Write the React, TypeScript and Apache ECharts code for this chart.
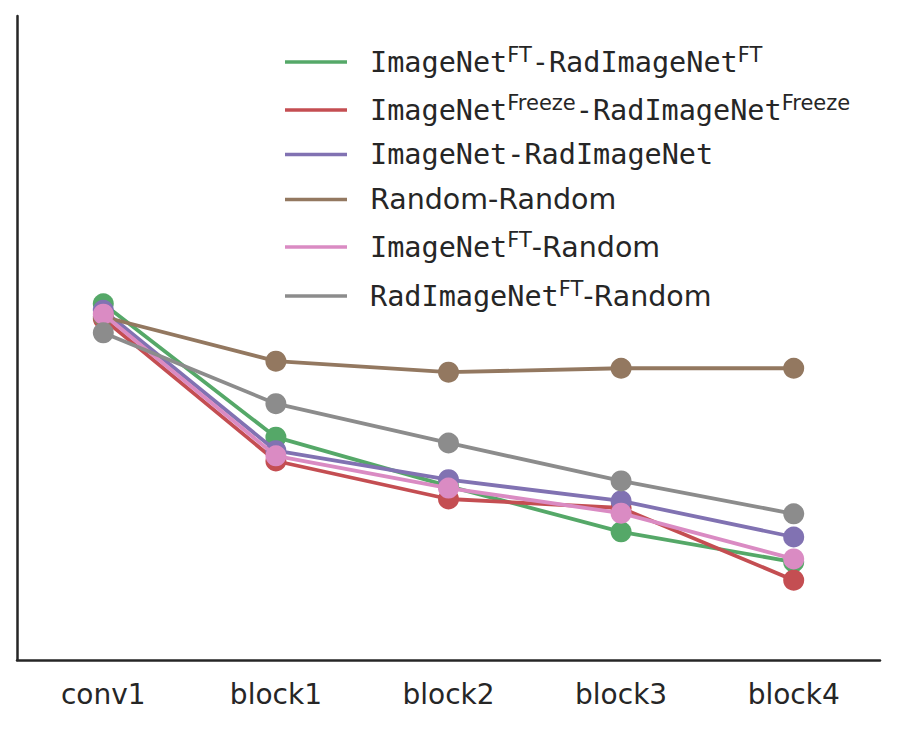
import React, { useEffect, useRef } from "react";
import * as echarts from "echarts";

const categories = ["conv1", "block1", "block2", "block3", "block4"];

const seriesNames = [
  "ImageNetFT-RadImageNetFT",
  "ImageNetFreeze-RadImageNetFreeze",
  "ImageNet-RadImageNet",
  "Random-Random",
  "ImageNetFT-Random",
  "RadImageNetFT-Random",
];

const legendRich: Record<string, string> = {
  "ImageNetFT-RadImageNetFT": "{m|ImageNet}{s|FT}{m|-RadImageNet}{s|FT}",
  "ImageNetFreeze-RadImageNetFreeze": "{m|ImageNet}{s|Freeze}{m|-RadImageNet}{s|Freeze}",
  "ImageNet-RadImageNet": "{m|ImageNet-RadImageNet}",
  "Random-Random": "{p|Random-Random}",
  "ImageNetFT-Random": "{m|ImageNet}{s|FT}{p|-Random}",
  "RadImageNetFT-Random": "{m|RadImageNet}{s|FT}{p|-Random}",
};

const colors = ["#55A868", "#C44E52", "#8172B2", "#937860", "#DA8BC3", "#8C8C8C"];

const ftRad = [0.553, 0.346, 0.27, 0.199, 0.152];
const freezeRad = [0.53, 0.309, 0.25, 0.236, 0.124];
const imagenetRad = [0.543, 0.325, 0.28, 0.247, 0.191];
const randomRandom = [0.533, 0.464, 0.447, 0.453, 0.453];
const ftRandom = [0.537, 0.317, 0.267, 0.228, 0.157];
const radFtRandom = [0.508, 0.398, 0.337, 0.278, 0.227];

const seriesValues = [ftRad, freezeRad, imagenetRad, randomRandom, ftRandom, radFtRandom];

const legendRowCenters = [62, 110, 158, 203, 247, 296];

const TEXT = "#262626";

export default function App() {
  const ref = useRef<HTMLDivElement>(null);
  useEffect(() => {
    if (!ref.current) return;
    const chart = echarts.init(ref.current, undefined, { renderer: "svg" });
    const rich = {
      m: { fontFamily: "DejaVu Sans Mono", fontSize: 28.5, lineHeight: 36, color: TEXT },
      p: { fontFamily: "DejaVu Sans", fontSize: 28.5, lineHeight: 36, color: TEXT },
      s: {
        fontFamily: "DejaVu Sans",
        fontSize: 21,
        lineHeight: 21,
        padding: [0, 0, 15, 0],
        color: TEXT,
      },
    };
    chart.setOption({
      animation: false,
      backgroundColor: "#ffffff",
      grid: { left: 17, right: 18, top: 16, bottom: 70, containLabel: false },
      xAxis: {
        type: "category",
        data: categories,
        boundaryGap: true,
        axisLine: { show: true, lineStyle: { color: TEXT, width: 2.5 } },
        axisTick: { show: false },
        axisLabel: {
          color: TEXT,
          fontFamily: "DejaVu Sans",
          fontSize: 28,
          margin: 20,
        },
        splitLine: { show: false },
      },
      yAxis: {
        type: "value",
        min: 0,
        max: 1,
        axisLine: { show: true, lineStyle: { color: TEXT, width: 2.5 } },
        axisTick: { show: false },
        axisLabel: { show: false },
        splitLine: { show: false },
      },
      legend: seriesNames.map((name, i) => ({
        orient: "vertical",
        left: 285,
        top: legendRowCenters[i] - 18,
        padding: 0,
        icon: "rect",
        itemWidth: 62,
        itemHeight: 3.3,
        data: [name],
        selectedMode: false,
        formatter: (n: string) => legendRich[n] || n,
        textStyle: {
          color: TEXT,
          padding: [0, 0, 0, 18],
          rich,
        },
      })),
      series: seriesNames.map((name, i) => ({
        name,
        type: "line",
        data: seriesValues[i],
        symbol: "circle",
        symbolSize: 21,
        color: colors[i],
        lineStyle: { width: 3.8, color: colors[i] },
        itemStyle: { color: colors[i] },
        emphasis: { disabled: true },
        z: 2 + i,
      })),
    });
    return () => chart.dispose();
  }, []);
  return (
    <div
      ref={ref}
      style={{ position: "absolute", left: 0, top: 0, width: 898, height: 730 }}
    />
  );
}
